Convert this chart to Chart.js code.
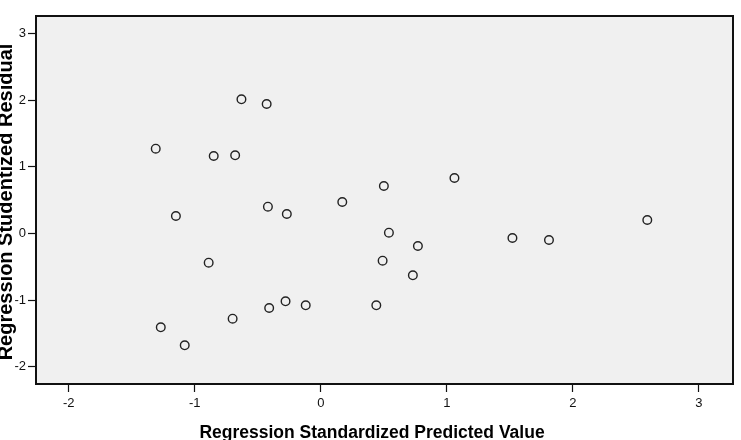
<!DOCTYPE html>
<html>
<head>
<meta charset="utf-8">
<script src="https://cdn.jsdelivr.net/npm/chart.js@4"></script>
<style>
  body { margin: 0; background: #fff; }
  #wrap { width: 741px; height: 440px; }
</style>
</head>
<body>
<div id="wrap"><canvas id="residualChart" width="741" height="440"></canvas></div>
<script>
// nilai (perkiraan)
const predictedValues = [-0.63, -0.43, -1.31, -0.85, -0.68, 0.50, 1.06, 0.17, -1.15, -0.42, -0.27, 0.54, 0.77,
  1.52, 1.81, 2.59, -0.89, 0.49, 0.73, -0.28, -0.41, -0.12, 0.44, -0.70, -1.27, -1.08];
const residualValues = [2.01, 1.94, 1.27, 1.16, 1.17, 0.71, 0.83, 0.47, 0.26, 0.40, 0.29, 0.01, -0.19,
  -0.07, -0.10, 0.20, -0.44, -0.41, -0.63, -1.02, -1.12, -1.08, -1.08, -1.28, -1.41, -1.68];
const xTicks = [-2, -1, 0, 1, 2, 3];
const yTicks = [-2, -1, 0, 1, 2, 3];
const xTitle = 'Regression Standardized Predicted Value';
const yTitle = 'Regression Studentized Residual';

const points = predictedValues.map((x, i) => ({ x: x, y: residualValues[i] }));

// background abu-abu + bingkai hitam + judul sumbu
const frameAndTitles = {
  id: 'frameAndTitles',
  beforeDatasetsDraw(chart) {
    const { ctx, chartArea: a } = chart;
    ctx.save();
    ctx.fillStyle = '#f0f0f0';
    ctx.fillRect(a.left, a.top, a.right - a.left, a.bottom - a.top);
    ctx.restore();
  },
  afterDraw(chart) {
    const { ctx, chartArea: a } = chart;
    ctx.save();
    ctx.strokeStyle = '#111';
    ctx.lineWidth = 2;
    ctx.strokeRect(a.left, a.top, a.right - a.left, a.bottom - a.top);

    ctx.fillStyle = '#000';
    ctx.font = 'bold 17.5px "Liberation Sans", Arial, sans-serif';
    ctx.textAlign = 'center';
    ctx.textBaseline = 'alphabetic';
    ctx.fillText(xTitle, 372, 438);

    // judul sumbu Y sedikit terpotong di kiri, seperti aslinya
    ctx.font = 'bold 20px "Liberation Sans", Arial, sans-serif';
    ctx.translate(12, 202);
    ctx.rotate(-Math.PI / 2);
    ctx.fillText(yTitle, 0, 0);
    ctx.restore();
  }
};

const ctx = document.getElementById('residualChart').getContext('2d');
const myChart = new Chart(ctx, {
  type: 'scatter',
  data: {
    datasets: [{
      data: points,
      pointStyle: 'circle',
      pointRadius: 4.3,
      pointHoverRadius: 4.3,
      borderColor: '#222',
      borderWidth: 1.4,
      backgroundColor: 'rgba(0,0,0,0)'
    }]
  },
  options: {
    responsive: false,
    animation: false,
    layout: { padding: { top: 16, right: 8, left: 0, bottom: 0 } },
    plugins: {
      legend: { display: false },
      tooltip: { enabled: false }
    },
    scales: {
      x: {
        type: 'linear',
        min: -2.26,
        max: 3.27,
        afterFit: s => { s.height = 56; },
        afterBuildTicks: s => { s.ticks = xTicks.map(v => ({ value: v })); },
        grid: { drawOnChartArea: false, drawTicks: true, tickLength: 8, tickColor: '#111', tickWidth: 1.2 },
        border: { display: false },
        ticks: {
          color: '#111',
          padding: 4,
          maxRotation: 0,
          font: { family: '"Liberation Sans", Arial, sans-serif', size: 13 },
          callback: v => String(v)
        }
      },
      y: {
        type: 'linear',
        min: -2.26,
        max: 3.26,
        afterFit: s => { s.width = 36; },
        afterBuildTicks: s => { s.ticks = yTicks.map(v => ({ value: v })); },
        grid: { drawOnChartArea: false, drawTicks: true, tickLength: 8, tickColor: '#111', tickWidth: 1.2 },
        border: { display: false },
        ticks: {
          color: '#111',
          padding: 2,
          font: { family: '"Liberation Sans", Arial, sans-serif', size: 13 },
          callback: v => String(v)
        }
      }
    }
  },
  plugins: [frameAndTitles]
});
</script>
</body>
</html>
